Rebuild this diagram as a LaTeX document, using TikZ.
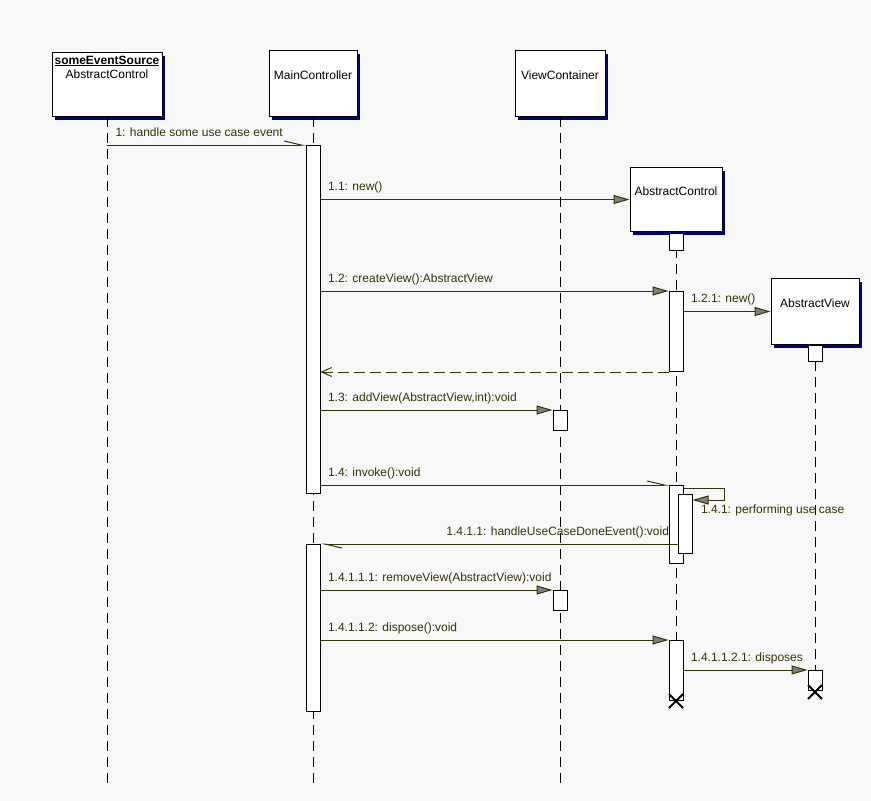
\documentclass[tikz,border=0pt]{standalone}
\usepackage{fontspec}
\setmainfont{Liberation Sans}
\usetikzlibrary{arrows.meta,shadows}

\definecolor{msgcol}{HTML}{333300}
\definecolor{arrowgray}{HTML}{808080}
\definecolor{shadowcol}{HTML}{000080}
\definecolor{bgcol}{HTML}{F7F7F7}

\tikzset{
  objbox/.style={draw=black, fill=white, line width=1pt, minimum width=88pt,
    inner xsep=0pt, inner ysep=20pt, text height=9pt, text depth=17pt,
    anchor=north, font=\fontsize{12}{14}\selectfont,
    drop shadow={shadow xshift=3pt, shadow yshift=-3pt, fill=shadowcol, opacity=1}},
  objtext/.style={anchor=base, inner sep=0pt, font=\fontsize{12}{14}\selectfont},
  activation/.style={draw=black, fill=white, line width=1pt, minimum width=14pt,
    inner sep=0pt, anchor=north},
  lifeline/.style={draw=black, line width=1pt, dash pattern=on 10pt off 6pt},
  call/.style={draw=msgcol, line width=1pt, -{Triangle[length=16pt,width=9pt,fill=arrowgray]}},
  async/.style={draw=msgcol, line width=1pt, -{Straight Barb[harpoon,length=17pt,width=8pt]}},
  reply/.style={draw=msgcol, line width=1pt, dash pattern=on 11pt off 5pt,
    -{Straight Barb[length=10pt,width=9pt]}},
  msglbl/.style={text=msgcol, inner sep=0pt, font=\fontsize{12}{14}\selectfont},
  lblr/.style={msglbl, pos=0, anchor=base west, xshift=7pt, yshift=9pt},
  lbll/.style={msglbl, pos=0, anchor=base east, xshift=-8pt, yshift=9pt},
  kill/.style={draw=black, line width=2pt}
}

\begin{document}
\begin{tikzpicture}[x=1pt, y=-1pt]
  \fill[bgcol] (0,0) rectangle (871,801);
  \coordinate (bottom) at (0,788);

  % objects
  \node[objbox, minimum width=110pt, inner ysep=19pt] (ses) at (107,52) {};
  \node[objtext] (sesname) at (107,64) {\underline{\textbf{someEventSource}}};
  \node[objtext] (sestype) at (107,78) {AbstractControl};
  \node[objbox] (mc) at (313,50) {MainController};
  \node[objbox, minimum width=90pt] (vc) at (560,50) {ViewContainer};
  \node[objbox, minimum width=92pt, inner ysep=19pt] (ac) at (676,167) {AbstractControl};
  \node[objbox] (av) at (815,278) {AbstractView};

  % lifelines
  \draw[lifeline] (ses.south) -- (ses.south |- bottom);
  \draw[lifeline] (mc.south) -- (mc.south |- bottom);
  \draw[lifeline] (vc.south) -- (vc.south |- bottom);
  \draw[lifeline] (ac.south) -- (676,700);
  \draw[lifeline] (av.south) -- (815,690);

  % activations
  \node[activation, minimum height=348pt] (mcA) at (313,145) {};
  \node[activation, minimum height=167pt] (mcB) at (313,544) {};
  \node[activation, minimum height=20pt] (vcA) at (560,410) {};
  \node[activation, minimum height=20pt] (vcB) at (560,590) {};
  \node[activation, minimum height=17pt] (acS) at (676,233) {};
  \node[activation, minimum height=80pt] (acA) at (676,291) {};
  \node[activation, minimum height=78pt] (acB) at (676,485) {};
  \node[activation, minimum height=59pt] (acC) at (685,494) {};
  \node[activation, minimum height=60pt] (acD) at (676,640) {};
  \node[activation, minimum height=16pt] (avS) at (815,345) {};
  \node[activation, minimum height=20pt] (avA) at (815,670) {};

  % destruction marks
  \draw[kill] (acD.south) ++(-7,-7) -- ++(14,14) ++(0,-14) -- ++(-14,14);
  \draw[kill] (avA.south) ++(-7,-6) -- ++(14,14) ++(0,-14) -- ++(-14,14);

  % messages
  \draw[async] (ses.south |- mcA.north) -- node[lblr, xshift=1pt] {1: handle some use case event} (mcA.north west);
  \draw[call] (mcA.east |- ac.west) -- node[lblr] {1.1: new()} (ac.west);
  \draw[call] (mcA.east |- acA.north) -- node[lblr] {1.2: createView():AbstractView} (acA.north west);
  \draw[call] (acA.east |- av.west) -- node[lblr] {1.2.1: new()} (av.west);
  \draw[reply] (acA.south west) -- (mcA.east |- acA.south);
  \draw[call] (mcA.east |- vcA.north) -- node[lblr] {1.3: addView(AbstractView,int):void} (vcA.north west);
  \draw[async] (mcA.east |- acB.north) -- node[lblr] {1.4: invoke():void} (acB.north west);
  \draw[call] ([yshift=-3pt]acB.north east) -- ++(41,0) -- ++(0,12)
    -- node[msglbl, pos=1, anchor=base west, xshift=8pt, yshift=-13pt] {1.4.1: performing use case}
    ([yshift=-6pt]acC.north east);
  \draw[async] (acC.west |- mcB.north) -- node[lbll] {1.4.1.1: handleUseCaseDoneEvent():void} (mcB.north east);
  \draw[call] (mcB.east |- vcB.north) -- node[lblr] {1.4.1.1.1: removeView(AbstractView):void} (vcB.north west);
  \draw[call] (mcB.east |- acD.north) -- node[lblr] {1.4.1.1.2: dispose():void} (acD.north west);
  \draw[call] (acD.east |- avA.north) -- node[lblr] {1.4.1.1.2.1: disposes} (avA.north west);
\end{tikzpicture}
\end{document}
